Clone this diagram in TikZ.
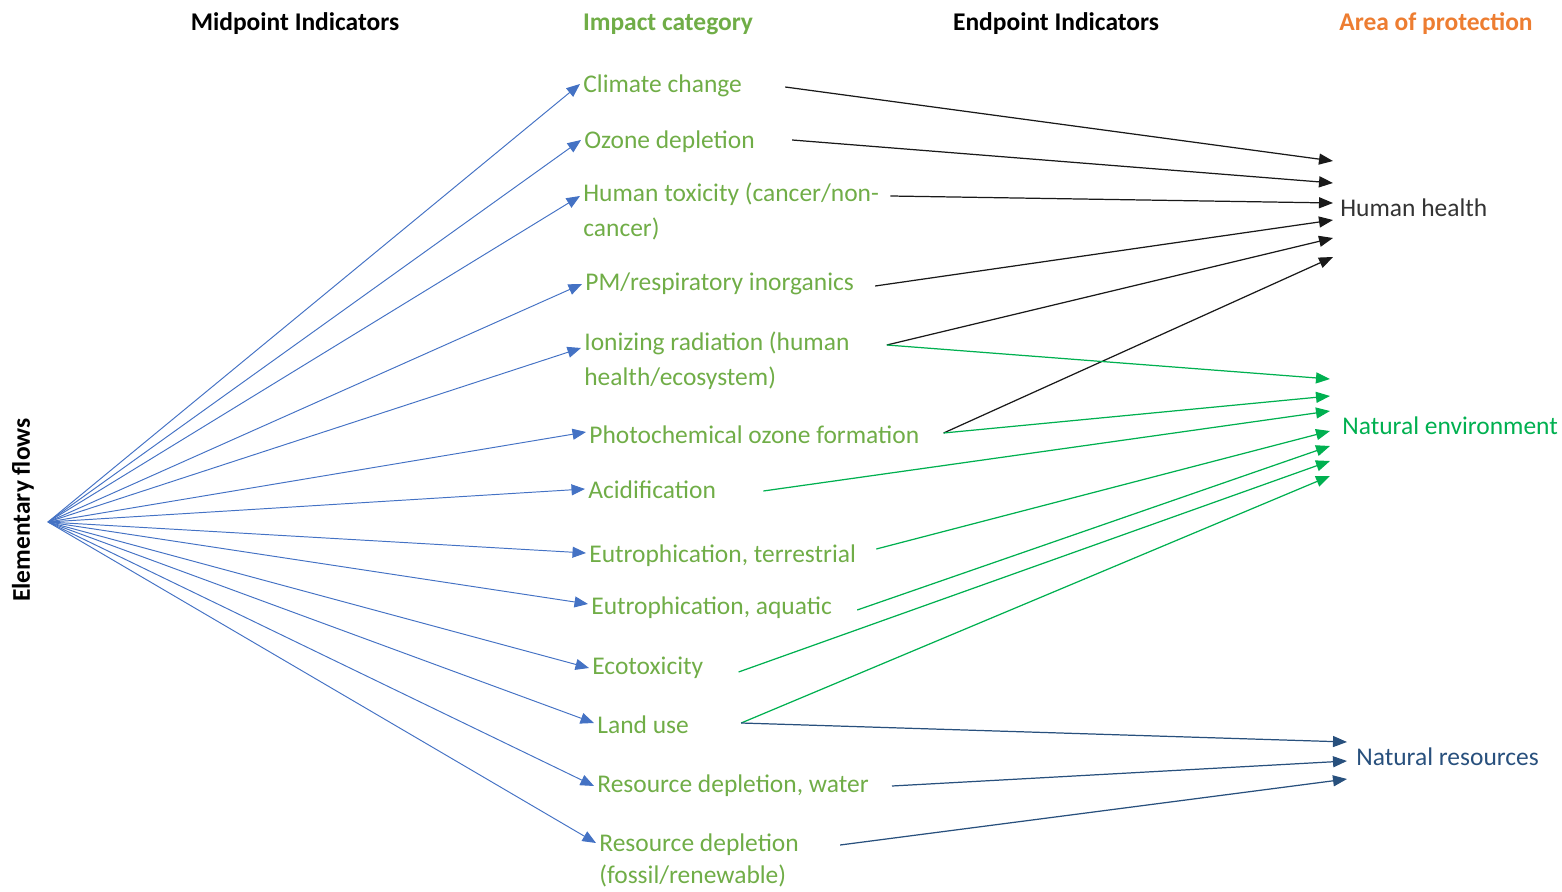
\documentclass[tikz,border=0pt]{standalone}
\usepackage{fontspec}
\setmainfont{Carlito}
\usetikzlibrary{calc,arrows.meta}

\definecolor{catgreen}{RGB}{112,173,71}
\definecolor{envgreen}{RGB}{0,176,80}
\definecolor{flowblue}{RGB}{68,114,196}
\definecolor{resblue}{RGB}{40,80,125}
\definecolor{aoporange}{RGB}{237,125,49}

\begin{document}
\begin{tikzpicture}[x=0.2mm,y=-0.2mm,
    head/.style={font=\fontsize{14.5}{17}\selectfont\bfseries},
    cat/.style={anchor=mid west,inner sep=0.6mm,align=left,text=catgreen,
      font=\fontsize{14.5}{19.5}\selectfont},
    aop/.style={anchor=mid west,inner sep=0.6mm,font=\fontsize{14.5}{17}\selectfont},
    flow/.style={flowblue,line width=0.55pt,-{Triangle[length=2.7mm,width=2.2mm]}},
    tohealth/.style={black!90,line width=0.7pt,-{Triangle[length=2.8mm,width=2.2mm]}},
    toenv/.style={envgreen,line width=0.7pt,-{Triangle[length=2.8mm,width=2.2mm]}},
    tores/.style={resblue,line width=0.7pt,-{Triangle[length=2.8mm,width=2.2mm]}}]
    \useasboundingbox (0,0) rectangle (1562,892);

    % column heads
    \node[head] (midhd) at (295,24) {Midpoint Indicators};
    \node[head,text=catgreen] (cathd) at (668,24) {Impact category};
    \node[head] (endhd) at (1056,24) {Endpoint Indicators};
    \node[head,text=aoporange] (aophd) at (1436,24) {Area of protection};
    \node[head,rotate=90] (elem) at (23,510) {Elementary flows};
    \coordinate (hub) at (48,522);

    % impact categories (two-line nodes sit on their last line)
    \node[cat] (climate) at (580,88) {Climate change};
    \node[cat] (ozone) at (581,144) {Ozone depletion};
    \node[cat] (humtox) at (580,232) {Human toxicity (cancer/non-\\cancer)};
    \node[cat] (pm) at (582,286) {PM/respiratory inorganics};
    \node[cat] (ionizing) at (581,381) {Ionizing radiation (human\\health/ecosystem)};
    \node[cat] (photo) at (586,439) {Photochemical ozone formation};
    \node[cat] (acid) at (585,494) {Acidification};
    \node[cat] (eutroter) at (586,558) {Eutrophication, terrestrial};
    \node[cat] (eutroaq) at (588,610) {Eutrophication, aquatic};
    \node[cat] (ecotox) at (589,670) {Ecotoxicity};
    \node[cat] (landuse) at (594,729) {Land use};
    \node[cat] (reswater) at (594,788) {Resource depletion, water};
    \node[cat,font=\fontsize{14.5}{18.2}\selectfont] (resfossil) at (596,879) {Resource depletion\\(fossil/renewable)};

    % areas of protection
    \node[aop,text=black!80] (health) at (1337,212) {Human health};
    \node[aop,text=envgreen] (natenv) at (1339,430) {Natural environment};
    \node[aop,text=resblue] (natres) at (1353,761) {Natural resources};

    \foreach \n/\dy in {climate/-4,ozone/-4,humtox/-36,pm/-2,ionizing/-33,photo/-7,acid/-5,eutroter/-5,eutroaq/-6,ecotox/-2,landuse/-6,reswater/-2,resfossil/-36}
      \draw[flow] (hub) -- ($(\n.mid west)+(0,\dy)$);

    \foreach \src/\dx/\dy/\ey in {climate/40/-1/-51,ozone/34/-4/-29,humtox/8/-36/-9,pm/18/0/8,ionizing/34/-36/26,photo/21/-6/45}
      \draw[tohealth] ($(\src.mid east)+(\dx,\dy)$) -- ($(health.mid west)+(-4,\ey)$);

    \foreach \src/\dx/\dy/\ey in {ionizing/34/-36/-51,photo/21/-6/-34,acid/44/-3/-19,eutroter/17/-9/1,eutroaq/22/0/16,ecotox/32/2/31,landuse/49/-6/46}
      \draw[toenv] ($(\src.mid east)+(\dx,\dy)$) -- ($(natenv.mid west)+(-9,\ey)$);

    \foreach \src/\dx/\dy/\ey in {landuse/49/-6/-19,reswater/20/-2/0,resfossil/38/-34/18}
      \draw[tores] ($(\src.mid east)+(\dx,\dy)$) -- ($(natres.mid west)+(-6,\ey)$);
\end{tikzpicture}
\end{document}
